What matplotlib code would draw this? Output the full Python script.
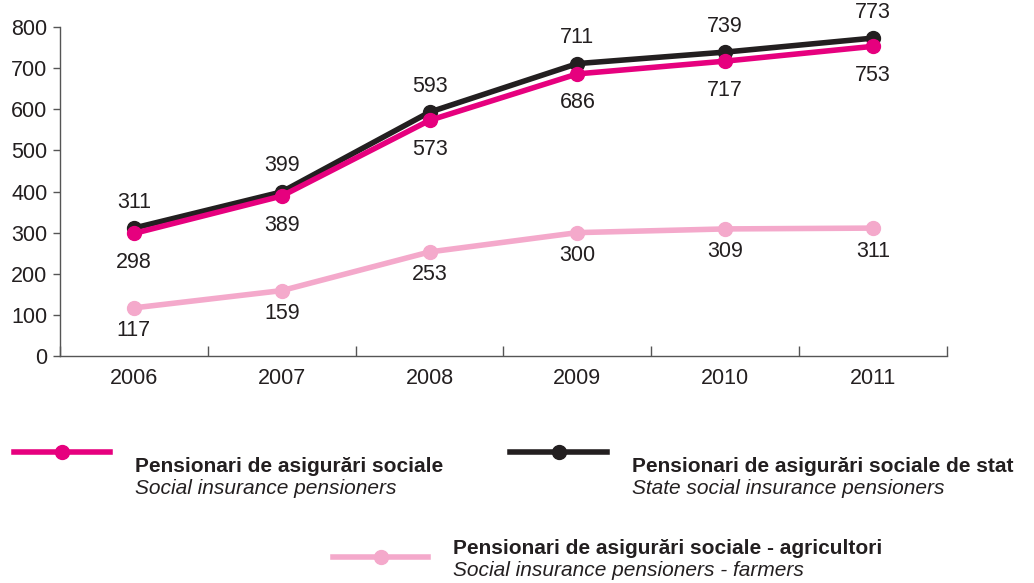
import matplotlib
matplotlib.use("Agg")
import matplotlib.pyplot as plt
from matplotlib.lines import Line2D

plt.rcParams['font.family'] = ['Liberation Sans', 'DejaVu Sans']

years = ["2006", "2007", "2008", "2009", "2010", "2011"]
social = [298, 389, 573, 686, 717, 753]
state = [311, 399, 593, 711, 739, 773]
farmers = [117, 159, 253, 300, 309, 311]
yticks = [0, 100, 200, 300, 400, 500, 600, 700, 800]

c_social = "#E6007E"
c_state = "#231F20"
c_farm = "#F4A9CB"
c_text = "#231F20"

W, H = 1034, 583
fig = plt.figure(figsize=(W / 100, H / 100), dpi=100)
ax = fig.add_axes([60 / W, 1 - 356 / H, (947 - 60) / W, (356 - 27) / H])

x = list(range(len(years)))
lw = 4
ms = 10
ax.plot(x, farmers, color=c_farm, lw=lw, marker="o", ms=ms, zorder=2)
ax.plot(x, state, color=c_state, lw=lw, marker="o", ms=ms, zorder=3)
ax.plot(x, social, color=c_social, lw=lw, marker="o", ms=ms, zorder=4)

fs = 15.5
for xi, v in zip(x, state):
    ax.annotate(str(v), (xi, v), xytext=(0, 26), textcoords="offset pixels",
                ha="center", va="center", fontsize=fs, color=c_text)
for xi, v in zip(x, social):
    ax.annotate(str(v), (xi, v), xytext=(0, -29), textcoords="offset pixels",
                ha="center", va="center", fontsize=fs, color=c_text)
for xi, v in zip(x, farmers):
    ax.annotate(str(v), (xi, v), xytext=(0, -23), textcoords="offset pixels",
                ha="center", va="center", fontsize=fs, color=c_text)

ax.set_xlim(-0.5, len(years) - 0.5)
ax.set_ylim(0, 800)
ax.set_yticks(yticks)
ax.set_yticklabels([str(t) for t in yticks], fontsize=fs, color=c_text)
ax.set_xticks(x)
ax.set_xticklabels(years, fontsize=fs, color=c_text)
ax.set_xticks([i - 0.5 for i in range(len(years) + 1)], minor=True)
ax.tick_params(axis="x", which="major", length=0, pad=9)
ax.tick_params(axis="x", which="minor", length=7, direction="in", color="#555555", width=1)
ax.tick_params(axis="y", length=5, direction="out", color="#555555", width=1, pad=4)
for s in ["top", "right"]:
    ax.spines[s].set_visible(False)
for s in ["left", "bottom"]:
    ax.spines[s].set_color("#555555")
    ax.spines[s].set_linewidth(1)

# Legend
lfs = 15
def legend_item(x0, x1, y, color, bold, italic, tx, ty):
    ln = Line2D([x0 / W, x1 / W], [1 - y / H, 1 - y / H], transform=fig.transFigure,
                color=color, lw=lw, marker=None)
    fig.add_artist(ln)
    mk = Line2D([(x0 + x1) / 2 / W], [1 - y / H], transform=fig.transFigure,
                color=color, marker="o", ms=ms, lw=0)
    fig.add_artist(mk)
    fig.text(tx / W, 1 - ty / H, bold, fontsize=lfs, fontweight="bold", color=c_text,
             ha="left", va="center")
    fig.text(tx / W, 1 - (ty + 22) / H, italic, fontsize=lfs, style="italic", color=c_text,
             ha="left", va="center")

legend_item(14, 110, 452, c_social, "Pensionari de asigurări sociale",
            "Social insurance pensioners", 135, 467)
legend_item(510, 607, 452, c_state, "Pensionari de asigurări sociale de stat",
            "State social insurance pensioners", 632, 467)
legend_item(333, 428, 557, c_farm, "Pensionari de asigurări sociale - agricultori",
            "Social insurance pensioners - farmers", 453, 549)

fig.savefig("out.png", dpi=100)
